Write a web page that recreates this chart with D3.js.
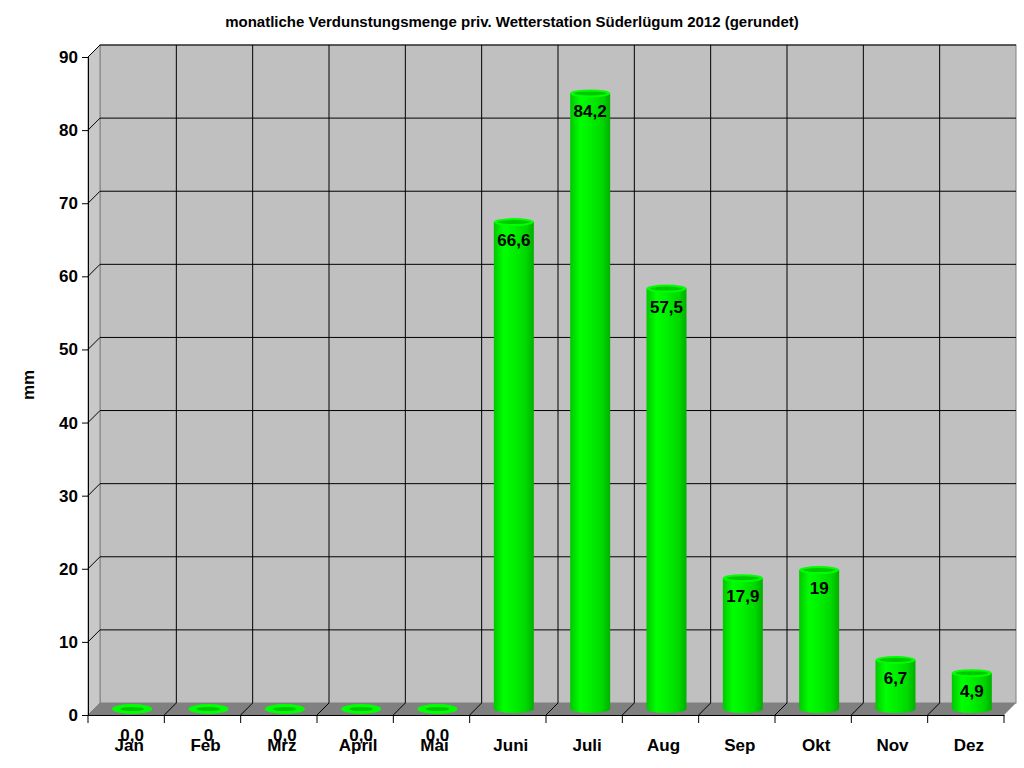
<!DOCTYPE html>
<html><head><meta charset="utf-8">
<script src="https://cdn.jsdelivr.net/npm/d3@7"></script>
<style>body{margin:0;background:#fff}</style>
</head><body>
<svg id="c" width="1024" height="768"></svg>
<script>
var months = ['Jan','Feb','Mrz','April','Mai','Juni','Juli','Aug','Sep','Okt','Nov','Dez']
var values = [0,0,0,0,0,66.6,84.2,57.5,17.9,19,6.7,4.9]
var labels = ['0,0','0','0,0','0,0','0,0','66,6','84,2','57,5','17,9','19','6,7','4,9']
var yTicks = d3.range(0,91,10)

var svg = d3.select('#c'), font = 'Arial, Liberation Sans, sans-serif'
var pLeft = 88, pRight = 1004, pBottom = 715, pTop = 57, depth = 12
var x = d3.scaleBand().domain(months).range([pLeft, pRight])
var y = d3.scaleLinear().domain([0,90]).range([pBottom, pTop])

// back wall + side wall + floor
svg.append('rect').attr('x', pLeft+depth).attr('y', pTop-depth).attr('width', pRight-pLeft)
  .attr('height', pBottom-pTop).attr('fill', '#c0c0c0').attr('stroke', '#808080')
svg.append('path').attr('d', 'M'+pLeft+','+pTop+'L'+(pLeft+depth)+','+(pTop-depth)+'V'+(pBottom-depth)+'L'+pLeft+','+pBottom+'Z')
  .attr('fill', '#c8c8c8').attr('stroke', '#808080')
svg.append('path').attr('d', 'M'+pLeft+','+pBottom+'L'+(pLeft+depth)+','+(pBottom-depth)+'H'+(pRight+depth)+'L'+pRight+','+pBottom+'Z')
  .attr('fill', '#808080')

yTicks.forEach(function(t){
  if(t === 0) return
  svg.append('line').attr('x1', pLeft+depth).attr('x2', pRight+depth)
    .attr('y1', y(t)-depth).attr('y2', y(t)-depth).attr('stroke', '#000')
  svg.append('line').attr('x1', pLeft).attr('x2', pLeft+depth)
    .attr('y1', y(t)).attr('y2', y(t)-depth).attr('stroke', '#000')
})
months.forEach(function(m, i){
  var bx = x(m)
  if(i === 0) return
  svg.append('line').attr('x1', bx+depth).attr('x2', bx+depth)
    .attr('y1', pTop-depth).attr('y2', pBottom-depth).attr('stroke', '#000')
  svg.append('line').attr('x1', bx).attr('x2', bx+depth)
    .attr('y1', pBottom).attr('y2', pBottom-depth).attr('stroke', '#000')
})

// axes
var ax = svg.append('g').attr('transform', 'translate('+pLeft+',0)')
  .call(d3.axisLeft(y).tickValues(yTicks).tickSize(6).tickPadding(4))
ax.select('.domain').attr('stroke', '#000')
ax.selectAll('text').attr('font-family', font).attr('font-size', 17).attr('font-weight', 'bold')
var bx = svg.append('g').attr('transform', 'translate(0,'+pBottom+')')
  .call(d3.axisBottom(x).tickSizeOuter(0).tickSize(0).tickFormat(''))
bx.select('.domain').attr('stroke', '#000')
d3.range(13).forEach(function(i){
  var xx = pLeft + i*x.step()
  svg.append('line').attr('x1', xx).attr('x2', xx).attr('y1', pBottom).attr('y2', pBottom+8).attr('stroke', '#000')
})

// bars (cylinders)
var grad = svg.append('defs').append('linearGradient').attr('id', 'cyl')
grad.selectAll('stop').data([[0,'#00c800'],[0.25,'#00ff00'],[0.5,'#00f000'],[0.8,'#00d800'],[1,'#00b000']])
  .enter().append('stop').attr('offset', function(d){ return d[0] }).attr('stop-color', function(d){ return d[1] })
var half = depth/2, bw = 40, ry = 4
months.forEach(function(m, i){
  var cx = x(m) + x.bandwidth()/2 + half
  var y0 = y(0) - half, y1 = y(values[i]) - half
  var g = svg.append('g')
  if(values[i] > 0){
    g.append('path').attr('d', 'M'+(cx-bw/2)+','+y1+'V'+y0+'A'+bw/2+','+ry+' 0 0 0 '+(cx+bw/2)+','+y0+'V'+y1+'Z')
      .attr('fill', 'url(#cyl)')
    g.append('ellipse').attr('cx', cx).attr('cy', y1).attr('rx', bw/2).attr('ry', ry).attr('fill', '#00ff00')
    g.append('ellipse').attr('cx', cx).attr('cy', y1).attr('rx', bw/2-4).attr('ry', ry-2).attr('fill', '#00c800')
    g.append('text').attr('x', cx).attr('y', y1+24).attr('text-anchor', 'middle')
      .attr('font-family', font).attr('font-size', 17).attr('font-weight', 'bold').text(labels[i])
  } else {
    g.append('ellipse').attr('cx', cx).attr('cy', y0).attr('rx', bw/2).attr('ry', ry+1).attr('fill', '#00ff00')
    g.append('ellipse').attr('cx', cx).attr('cy', y0).attr('rx', bw/2-8).attr('ry', 2).attr('fill', '#00c800')
  }
  svg.append('text').attr('x', x(m)+x.bandwidth()/2 + 3).attr('y', 751).attr('text-anchor', 'middle')
    .attr('font-family', font).attr('font-size', 17).attr('font-weight', 'bold').text(m)
  if(values[i] === 0)
    svg.append('text').attr('x', cx).attr('y', 741).attr('text-anchor', 'middle')
      .attr('font-family', font).attr('font-size', 17).attr('font-weight', 'bold').text(labels[i])
})

svg.append('text').attr('x', 512).attr('y', 27).attr('text-anchor', 'middle')
  .attr('font-family', font).attr('font-size', 15).attr('font-weight', 'bold')
  .text('monatliche Verdunstungsmenge priv. Wetterstation Süderlügum 2012 (gerundet)')
svg.append('text').attr('transform', 'translate(34,385) rotate(-90)').attr('text-anchor', 'middle')
  .attr('font-family', font).attr('font-size', 17).attr('font-weight', 'bold').text('mm')
</script>
</body></html>
